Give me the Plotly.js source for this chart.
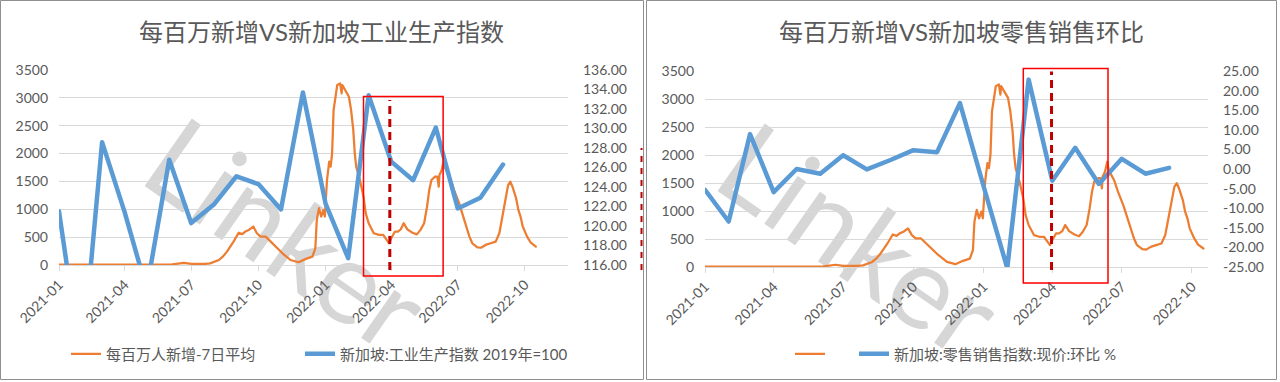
<!DOCTYPE html>
<html><head><meta charset="utf-8">
<script src="https://cdn.plot.ly/plotly-3.0.1.min.js"></script>
<style>
html,body{margin:0;padding:0;background:#fff;}
#wrap{position:relative;width:1280px;height:382px;overflow:hidden;background:#fff;}
#wm{position:absolute;left:0;top:0;}
#chart{position:absolute;left:0;top:0;width:1280px;height:382px;}
#chart .scatterlayer .js-line{stroke-linejoin:round;stroke-linecap:round;}
</style></head><body>
<div id="wrap">
<svg id="wm" width="1280" height="382">
  <text x="136" y="180" transform="rotate(35 136 180)" font-family="Lato" font-size="115" fill="#d6d6d6">Linker</text>
  <text x="709" y="185" transform="rotate(35 709 185)" font-family="Lato" font-size="115" fill="#d6d6d6">Linker</text>
</svg>
<div id="chart"></div>
</div>
<script>
// ---- data ----
const caseDates = ['2021-01-01','2021-02-01','2021-03-01','2021-04-01','2021-05-01','2021-05-20','2021-06-05','2021-06-16','2021-06-21','2021-07-01','2021-07-09','2021-07-20','2021-07-27','2021-08-08','2021-08-14','2021-08-19','2021-08-28','2021-09-04','2021-09-09','2021-09-13','2021-09-18','2021-09-24','2021-09-29','2021-10-04','2021-10-11','2021-10-22','2021-11-03','2021-11-14','2021-11-25','2021-12-05','2021-12-14','2021-12-18','2021-12-20','2021-12-23','2021-12-26','2021-12-29','2021-12-31','2022-01-03','2022-01-06','2022-01-08','2022-01-10','2022-01-12','2022-01-15','2022-01-17','2022-01-21','2022-01-23','2022-01-24','2022-01-28','2022-02-02','2022-02-05','2022-02-08','2022-02-10','2022-02-12','2022-02-17','2022-02-22','2022-02-25','2022-03-01','2022-03-08','2022-03-15','2022-03-21','2022-03-26','2022-03-29','2022-04-01','2022-04-06','2022-04-10','2022-04-14','2022-04-18','2022-04-23','2022-04-30','2022-05-06','2022-05-11','2022-05-16','2022-05-20','2022-05-23','2022-05-26','2022-05-31','2022-06-03','2022-06-05','2022-06-06','2022-06-09','2022-06-12','2022-06-14','2022-06-21','2022-06-26','2022-07-03','2022-07-07','2022-07-12','2022-07-17','2022-07-21','2022-07-28','2022-08-02','2022-08-08','2022-08-15','2022-08-22','2022-08-27','2022-08-31','2022-09-05','2022-09-08','2022-09-11','2022-09-14','2022-09-19','2022-09-22','2022-09-25','2022-09-28','2022-10-04','2022-10-09','2022-10-16'];
const caseValues = [5,3,3,4,5,8,10,30,40,20,15,20,30,90,160,240,420,580,555,600,630,690,570,510,510,360,210,90,50,110,150,300,810,1020,870,990,870,1525,1855,1765,2005,2780,3080,3230,3260,3080,3230,3140,3020,2780,2420,2005,1765,1525,1225,930,750,570,540,540,450,390,480,600,600,640,750,640,580,550,630,750,1050,1345,1525,1585,1585,1405,1615,1700,1880,1730,1550,1345,1105,930,690,510,390,318,310,360,390,420,570,870,1225,1435,1495,1405,1195,990,870,690,510,400,330];

const monthDates = ['2021-01-01','2021-02-01','2021-03-01','2021-04-01','2021-05-01','2021-06-01','2021-07-01','2021-08-01','2021-09-01','2021-10-01','2021-11-01','2021-12-01','2022-01-01','2022-02-01','2022-03-01','2022-04-01','2022-05-01','2022-06-01','2022-07-01','2022-08-01','2022-09-01'];
const ipValues = [121.5,105.6,128.6,121.4,113.5,126.8,120.3,122.2,125.1,124.3,121.7,133.7,122.3,116.7,133.4,126.6,124.7,130.1,121.8,122.9,126.3];
const rsValues = [-5.3,-13.4,8.9,-5.9,0.0,-1.2,3.5,-0.1,2.3,4.8,4.3,16.8,-4.4,-25.3,22.8,-3.0,5.4,-3.8,2.6,-1.2,0.3];

const ipTickVals = [116,118,120,122,124,126,128,130,132,134,136];
const ipTickText = ['116.00','118.00','120.00','122.00','124.00','126.00','128.00','130.00','132.00','134.00','136.00'];
const rsTickVals = [-25,-20,-15,-10,-5,0,5,10,15,20,25];
const rsTickText = ['-25.00','-20.00','-15.00','-10.00','-5.00','0.00','5.00','10.00','15.00','20.00','25.00'];

const names = {
  cases: '每百万人新增-7日平均',
  ip: '新加坡:工业生产指数 2019年=100',
  rs: '新加坡:零售销售指数:现价:环比 %'
};
const titles = ['每百万新增VS新加坡工业生产指数', '每百万新增VS新加坡零售销售环比'];

// ---- layout helpers ----
const W = 1280, H = 382;
const px = v => v / W;
const py = v => 1 - v / H;
const FONT = "Lato, 'Noto Sans CJK SC', sans-serif";
const GRAY = '#595959';
const ORANGE = '#ed7d31', BLUE = '#5b9bd5';

const traces = [
  {x: caseDates, y: caseValues, xaxis: 'x', yaxis: 'y', type: 'scatter', mode: 'lines',
   line: {color: ORANGE, width: 2.25}, name: names.cases, legend: 'legend'},
  {x: monthDates, y: ipValues, xaxis: 'x', yaxis: 'y2', type: 'scatter', mode: 'lines',
   line: {color: BLUE, width: 4.5}, name: names.ip, legend: 'legend2'},
  {x: caseDates, y: caseValues, xaxis: 'x2', yaxis: 'y3', type: 'scatter', mode: 'lines',
   line: {color: ORANGE, width: 2.25}, name: '', legend: 'legend3'},
  {x: monthDates, y: rsValues, xaxis: 'x2', yaxis: 'y4', type: 'scatter', mode: 'lines',
   line: {color: BLUE, width: 4.5}, name: names.rs, legend: 'legend4'}
];

const tickFont = {family: FONT, size: 14, color: GRAY};
const xBase = {
  type: 'date', dtick: 'M3', tick0: '2021-01-01', tickformat: '%Y-%m', tickangle: -45,
  showgrid: false, showline: true, linecolor: '#d9d9d9', linewidth: 1,
  ticks: 'outside', ticklen: 5, tickcolor: '#d9d9d9', tickfont: tickFont,
  zeroline: false, automargin: false, fixedrange: true
};
const yLeftBase = {
  range: [0, 3500], dtick: 500, showgrid: true, gridcolor: '#d9d9d9', gridwidth: 1,
  zeroline: false, showline: false, ticks: '', tickfont: tickFont, ticklabelstandoff: 10,
  automargin: false, fixedrange: true
};
const yRightBase = {
  side: 'right', showgrid: false, zeroline: false, showline: false, ticks: '',
  tickmode: 'array', tickfont: tickFont, ticklabelstandoff: 14, automargin: false, fixedrange: true
};

const legendBase = {orientation: 'h', xanchor: 'left', yanchor: 'middle', y: py(354),
  bgcolor: 'rgba(0,0,0,0)', borderwidth: 0, font: {family: FONT, size: 15, color: GRAY}};

const layout = {
  width: W, height: H, margin: {l: 0, r: 0, t: 0, b: 0, pad: 0},
  paper_bgcolor: 'rgba(0,0,0,0)', plot_bgcolor: 'rgba(0,0,0,0)',
  font: {family: FONT, color: GRAY},
  xaxis: Object.assign({}, xBase, {domain: [px(59), px(568)], anchor: 'y', range: ['2021-01-01', '2022-11-29']}),
  yaxis: Object.assign({}, yLeftBase, {domain: [py(265), py(70)], anchor: 'x'}),
  yaxis2: Object.assign({}, yRightBase, {overlaying: 'y', anchor: 'x', range: [116, 136], tickvals: ipTickVals, ticktext: ipTickText}),
  xaxis2: Object.assign({}, xBase, {domain: [px(705), px(1208)], anchor: 'y3', range: ['2021-01-01', '2022-10-22']}),
  yaxis3: Object.assign({}, yLeftBase, {domain: [py(267), py(71)], anchor: 'x2'}),
  yaxis4: Object.assign({}, yRightBase, {overlaying: 'y3', anchor: 'x2', range: [-25, 25], tickvals: rsTickVals, ticktext: rsTickText}),
  legend: Object.assign({}, legendBase, {x: px(66)}),
  legend2: Object.assign({}, legendBase, {x: px(300)}),
  legend3: Object.assign({}, legendBase, {x: px(790)}),
  legend4: Object.assign({}, legendBase, {x: px(854)}),
  showlegend: true,
  annotations: [
    {text: titles[0], xref: 'paper', yref: 'paper', x: px(321), y: py(32), xanchor: 'center', yanchor: 'middle',
     showarrow: false, font: {family: FONT, size: 24, color: GRAY}},
    {text: titles[1], xref: 'paper', yref: 'paper', x: px(961), y: py(32), xanchor: 'center', yanchor: 'middle',
     showarrow: false, font: {family: FONT, size: 24, color: GRAY}}
  ],
  shapes: [
    {type: 'rect', xref: 'paper', yref: 'paper', x0: px(0.5), x1: px(643.5), y0: py(379.5), y1: py(0.5),
     line: {color: '#8f8f8f', width: 1}, layer: 'below'},
    {type: 'rect', xref: 'paper', yref: 'paper', x0: px(646.5), x1: px(1276.5), y0: py(379.5), y1: py(0.5),
     line: {color: '#8f8f8f', width: 1}, layer: 'below'},
    // highlight boxes and dashed markers
    {type: 'rect', xref: 'x', yref: 'paper', x0: '2022-02-22', x1: '2022-06-11', y0: py(276), y1: py(96.5),
     line: {color: '#ff0000', width: 1.5}},
    {type: 'line', xref: 'x', yref: 'paper', x0: '2022-03-30', x1: '2022-03-30', y0: py(270), y1: py(100),
     line: {color: '#c00000', width: 3, dash: '8px,5px'}},
    {type: 'rect', xref: 'x2', yref: 'paper', x0: '2022-02-22', x1: '2022-06-13', y0: py(283), y1: py(68.5),
     line: {color: '#ff0000', width: 1.5}},
    {type: 'line', xref: 'x2', yref: 'paper', x0: '2022-03-31', x1: '2022-03-31', y0: py(270), y1: py(71.5),
     line: {color: '#c00000', width: 3, dash: '8px,5px'}},
    {type: 'line', xref: 'paper', yref: 'paper', x0: px(641.5), x1: px(641.5), y0: py(270), y1: py(148),
     line: {color: '#c00000', width: 2, dash: '6px,6px'}}
  ]
};

Plotly.newPlot('chart', traces, layout, {staticPlot: true, displayModeBar: false});
</script>
</body></html>
